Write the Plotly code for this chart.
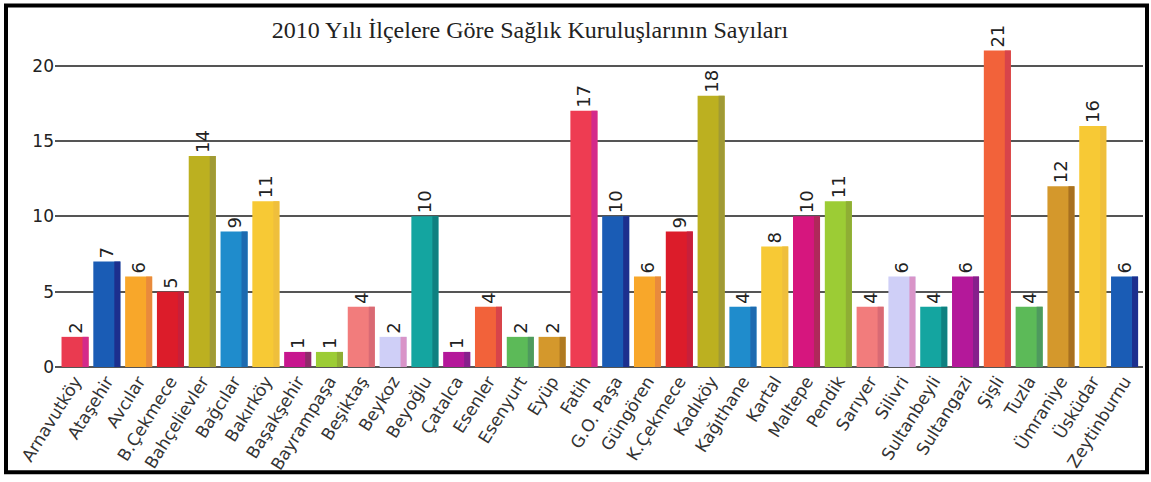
import plotly.graph_objects as go

# Districts of Istanbul and the number of health institutions in each (2010)
districts = [
    "Arnavutköy", "Ataşehir", "Avcılar", "B.Çekmece", "Bahçelievler", "Bağcılar",
    "Bakırköy", "Başakşehir", "Bayrampaşa", "Beşiktaş", "Beykoz", "Beyoğlu",
    "Çatalca", "Esenler", "Esenyurt", "Eyüp", "Fatih", "G.O. Paşa", "Güngören",
    "K.Çekmece", "Kadıköy", "Kağıthane", "Kartal", "Maltepe", "Pendik", "Sarıyer",
    "Silivri", "Sultanbeyli", "Sultangazi", "Şişli", "Tuzla", "Ümraniye",
    "Üsküdar", "Zeytinburnu",
]
counts = [2, 7, 6, 5, 14, 9, 11, 1, 1, 4, 2, 10, 1, 4, 2, 2, 17, 10, 6, 9,
          18, 4, 8, 10, 11, 4, 6, 4, 6, 21, 4, 12, 16, 6]

y_ticks = [0, 5, 10, 15, 20]

# Front face and darker side face colour of each bar
front_colors = [
    "#ea3a50", "#1a5cb5", "#f8a72a", "#dc1c2a", "#bcb020", "#1f8ccc",
    "#f7c935", "#c7168e", "#9ccc35", "#f27c7c", "#cfcff7", "#14a5a0",
    "#b4189a", "#f2623a", "#5cba58", "#d4982c", "#ee3c52", "#1a5cb5",
    "#f8a72a", "#dc1c2a", "#bcb020", "#1f8ccc", "#f7c935", "#d6167e",
    "#9ccc35", "#f27c7c", "#cfcff7", "#14a5a0", "#b4189a", "#f2623a",
    "#5cba58", "#d4982c", "#f7c935", "#1a5cb5",
]
side_colors = [
    "#d42a8a", "#1c2f8e", "#e98a3c", "#c81f3a", "#a09a35", "#1d6ab0",
    "#efbf3c", "#8e2a6a", "#8fae34", "#d96a74", "#d994c8", "#0e8080",
    "#86208c", "#d8444a", "#4e9a5e", "#b07a22", "#d42a8a", "#1c2f8e",
    "#e98a3c", "#c81f3a", "#a09a35", "#1d6ab0", "#efbf3c", "#b0285a",
    "#8fae34", "#d96a74", "#d994c8", "#0e8080", "#86208c", "#d8444a",
    "#4e9a5e", "#a87020", "#efbf3c", "#1c2f8e",
]

fig = go.Figure()

# Full bar (front face) carrying the value labels
fig.add_trace(go.Bar(
    x=districts, y=counts,
    width=0.85, offset=-0.425,
    marker=dict(color=front_colors, line=dict(width=0)),
    text=[str(c) for c in counts],
    textposition="outside", textangle=-90, constraintext="none",
    textfont=dict(family="DejaVu Sans", size=18, color="#222222"),
    cliponaxis=False,
    hoverinfo="x+y",
))

# Darker right-hand side face for a simple 3D look
fig.add_trace(go.Bar(
    x=districts, y=counts,
    width=0.19, offset=0.235,
    marker=dict(color=side_colors, line=dict(width=0)),
    hoverinfo="skip",
))

# Plot-area geometry in pixels (used for the outer frame)
W, H = 1151, 482
L, R, T, B = 55, 8, 45, 110
pw, ph = W - L - R, H - T - B


def px_to_paper_x(px):
    return (px - L) / pw


def px_to_paper_y(py):
    return (H - B - py) / ph


fig.update_layout(
    width=W, height=H,
    margin=dict(l=L, r=R, t=T, b=B, pad=0),
    paper_bgcolor="white", plot_bgcolor="white",
    barmode="overlay",
    showlegend=False,
    title=dict(
        text="2010 Yılı İlçelere Göre Sağlık Kuruluşlarının Sayıları",
        font=dict(family="Liberation Serif", size=24, color="#222222"),
        x=530 / W, xanchor="center", xref="container",
        y=1 - 30 / H, yanchor="middle", yref="container",
    ),
    xaxis=dict(
        type="category", categoryorder="array", categoryarray=districts,
        range=[-0.63, 33.58],
        tickangle=-58,
        tickfont=dict(family="DejaVu Sans", size=17, color="#333333"),
        showgrid=False, showline=False, ticks="", zeroline=False,
    ),
    yaxis=dict(
        range=[0, 21.37],
        tickvals=y_ticks,
        tickfont=dict(family="DejaVu Sans", size=17, color="#222222"),
        showgrid=True, gridcolor="#555555", gridwidth=1.5,
        zeroline=True, zerolinecolor="#555555", zerolinewidth=1.5,
        showline=False, ticks="",
    ),
    shapes=[dict(
        type="rect", xref="paper", yref="paper",
        x0=px_to_paper_x(6), x1=px_to_paper_x(1147),
        y0=px_to_paper_y(479), y1=px_to_paper_y(5),
        line=dict(color="black", width=4), fillcolor="rgba(0,0,0,0)",
        layer="above",
    )],
)

fig.write_html("out.html")
